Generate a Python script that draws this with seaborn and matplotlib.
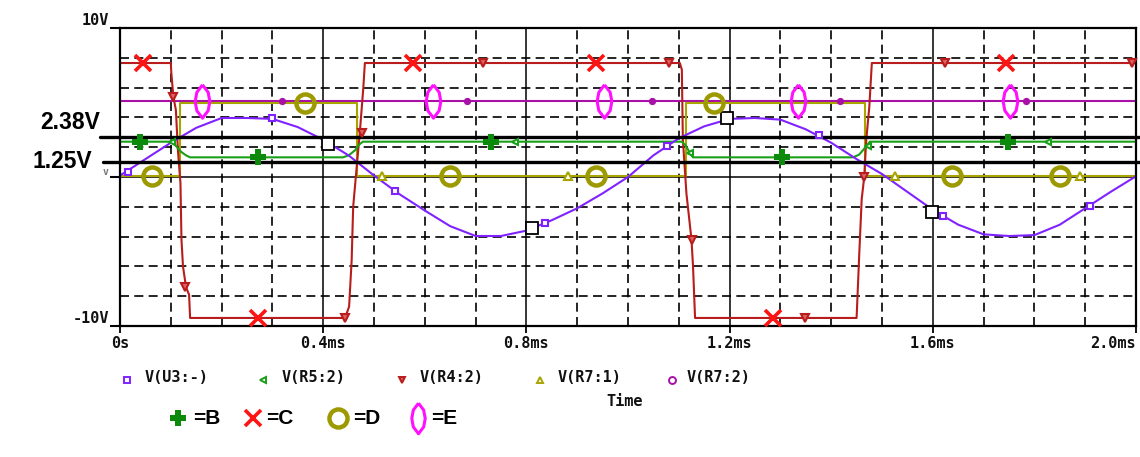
import numpy as np
import matplotlib
matplotlib.use("Agg")
import matplotlib.pyplot as plt
import matplotlib.transforms as mtransforms
from matplotlib.path import Path
import seaborn as sns

# ---------------- data ----------------
# V(U3:-) : sine-like wave (ms, V)
T_U3 = [0.00, 0.05, 0.10, 0.15, 0.20, 0.25, 0.30, 0.35, 0.40, 0.45,
        0.50, 0.55, 0.60, 0.65, 0.70, 0.75, 0.80, 0.85, 0.90, 0.95,
        1.00, 1.05, 1.10, 1.15, 1.20, 1.25, 1.30, 1.35, 1.40, 1.45,
        1.50, 1.55, 1.60, 1.65, 1.70, 1.75, 1.80, 1.85, 1.90, 1.95, 2.00]
V_U3 = [0.10, 1.20, 2.30, 3.30, 3.96, 3.96, 3.90, 3.35, 2.50, 1.45,
        0.10, -1.15, -2.25, -3.30, -3.96, -3.96, -3.60, -2.90, -2.10, -1.10,
        0.00, 1.45, 2.60, 3.40, 3.90, 3.96, 3.85, 3.20, 2.30, 1.20,
        0.20, -1.00, -2.20, -3.20, -3.85, -3.96, -3.90, -3.20, -2.10, -1.00, 0.05]

# V(R5:2) : green, switches between ~2.38 V and ~1.3 V
T_R5 = [0.0, 0.101, 0.105, 0.111, 0.120, 0.130, 0.138, 0.439, 0.450, 0.463, 0.470, 0.478,
        1.106, 1.114, 1.122, 1.128, 1.443, 1.455, 1.465, 1.476, 2.0]
V_R5 = [2.37, 2.37, 2.30, 2.05, 1.70, 1.45, 1.32, 1.32, 1.45, 1.80, 2.15, 2.37,
        2.37, 2.10, 1.60, 1.32, 1.32, 1.50, 1.90, 2.37, 2.37]

# V(R4:2) : dark red square wave
T_R4 = [0.0, 0.100, 0.101, 0.105, 0.110, 0.114, 0.119, 0.121, 0.124, 0.130, 0.136, 0.138,
        0.443, 0.451, 0.456, 0.459, 0.466, 0.472, 0.479, 0.482,
        1.102, 1.106, 1.108, 1.115, 1.125, 1.128, 1.132,
        1.450, 1.455, 1.460, 1.465, 1.469, 1.475, 1.480, 2.0]
V_R4 = [7.65, 7.65, 7.0, 5.4, 4.5, 1.8, -0.4, -4.2, -6.0, -7.4, -7.9, -9.46,
        -9.46, -8.7, -5.6, -2.0, 0.7, 2.95, 6.0, 7.65,
        7.65, 7.2, 2.5, -1.1, -4.2, -6.0, -9.46,
        -9.46, -5.35, -1.5, 0.0, 2.5, 4.7, 7.65, 7.65]

# V(R7:1) : olive pulse
T_R71 = [0.0, 0.118, 0.118, 0.466, 0.466, 1.115, 1.115, 1.467, 1.467, 2.0]
V_R71 = [0.1, 0.1, 4.95, 4.95, 0.1, 0.1, 4.95, 4.95, 0.1, 0.1]

# V(R7:2) : constant
T_R72 = [0.0, 2.0]
V_R72 = [5.07, 5.07]

# trace markers (time, value)
U3_MK_T = [0.016, 0.300, 0.541, 0.837, 1.077, 1.376, 1.620, 1.909]
U3_MK_V = [0.33, 3.96, -0.95, -3.10, 2.05, 2.80, -2.60, -1.95]
CURSOR_T = [0.409, 0.811, 1.195, 1.598]
CURSOR_V = [2.21, -3.42, 3.96, -2.35]
R5_MK_T = [0.102, 0.778, 1.122, 1.472, 1.827]
R5_MK_V = [2.37, 2.37, 1.60, 2.10, 2.37]
R4_MK_T = [0.105, 0.128, 0.443, 0.476, 0.714, 1.081, 1.125, 1.348, 1.465, 1.624, 1.992]
R4_MK_V = [5.4, -7.4, -9.46, 2.95, 7.65, 7.65, -4.2, -9.46, 0.0, 7.65, 7.65]
R71_MK_T = [0.515, 0.882, 1.526, 1.890]
R71_MK_V = [0.1, 0.1, 0.1, 0.1]
R72_MK_T = [0.319, 0.683, 1.047, 1.417, 1.783]
R72_MK_V = [5.07, 5.07, 5.07, 5.07, 5.07]

# labelled symbols B, C, D, E
B_T = [0.040, 0.272, 0.730, 1.303, 1.748]
B_V = [2.37, 1.32, 2.37, 1.32, 2.37]
C_T = [0.045, 0.272, 0.577, 0.937, 1.285, 1.744]
C_V = [7.65, -9.46, 7.65, 7.65, -9.46, 7.65]
D_T = [0.063, 0.364, 0.650, 0.937, 1.169, 1.638, 1.850]
D_V = [0.1, 4.95, 0.1, 0.1, 4.95, 0.1, 0.1]
E_T = [0.161, 0.616, 0.953, 1.335, 1.752]
E_V = [5.07, 5.07, 5.07, 5.07, 5.07]

# annotation lines
ANNOT_V = [2.66, 1.03]
ANNOT_LABELS = ["2.38V", "1.25V"]

X_TICKS = [0.0, 0.4, 0.8, 1.2, 1.6, 2.0]
X_TICK_LABELS = ["0s", "0.4ms", "0.8ms", "1.2ms", "1.6ms", "2.0ms"]
Y_TICKS = [-10, 0, 10]
Y_TICK_LABELS = ["-10V", "v", "10V"]
SERIES_NAMES = ["V(U3:-)", "V(R5:2)", "V(R4:2)", "V(R7:1)", "V(R7:2)"]
KEY_LABELS = ["=B", "=C", "=D", "=E"]
X_LABEL = "Time"

# ---------------- style ----------------
sns.set_theme(style="white")
plt.rcParams["font.family"] = ["DejaVu Sans"]

C_U3 = "#8022ff"
C_R5 = "#18a018"
C_R4 = "#b81c1c"
C_R71 = "#a8a400"
C_R72 = "#a810a8"
C_B = "#0c8a0c"
C_C = "#ff1414"
C_D = "#9c9a00"
C_E = "#ff10ff"

MONO = dict(family="DejaVu Sans Mono", weight="bold", size=11)
ARIAL = dict(family="Liberation Sans", weight="bold")

lens = Path([(0, 1), (0.34, 0.55), (0.44, 0), (0.34, -0.55), (0, -1),
             (-0.34, -0.55), (-0.44, 0), (-0.34, 0.55), (0, 1)])

W, H = 1140, 457
fig = plt.figure(figsize=(W / 100, H / 100), dpi=100)
fig.patch.set_facecolor("white")
ax = fig.add_axes([120 / W, 1 - 326 / H, 1016 / W, 298 / H])
ax.set_facecolor("white")

ax.set_xlim(0, 2.0)
ax.set_ylim(-10, 10)

# grid
ax.set_xticks(X_TICKS)
ax.set_xticklabels(X_TICK_LABELS, **MONO)
ax.set_xticks(np.arange(0, 2.001, 0.1), minor=True)
ax.set_yticks(Y_TICKS)
ax.set_yticklabels(Y_TICK_LABELS, **MONO)
ax.set_yticks(np.arange(-10, 10.01, 2), minor=True)
ax.set_axisbelow(True)
ax.grid(which="minor", color="black", lw=1.2, ls=(0, (5.4, 3.2)))
ax.grid(which="major", axis="x", color="black", lw=1.1, ls="-")
ax.grid(which="major", axis="y", color="black", lw=1.1, ls="-")
ax.tick_params(which="minor", length=0)
ax.tick_params(axis="x", which="major", direction="out", length=5, width=1.3,
               color="black", pad=2, labelcolor="#111111", bottom=True)
ax.tick_params(axis="y", which="major", direction="out", length=7, width=1.5,
               color="black", pad=1, labelcolor="#111111", left=True)
for lbl in ax.get_yticklabels():
    lbl.set_va("bottom")
yl = ax.get_yticklabels()
yl[1].set_fontsize(7)
yl[1].set_color("#777777")
xl = ax.get_xticklabels()
xl[-1].set_ha("right")
xl[-1].set_x(2.0)
for s in ax.spines.values():
    s.set_color("black")
    s.set_linewidth(1.6)
    s.set_visible(True)

# traces
lw = 1.5
sns.lineplot(x=T_R72, y=V_R72, ax=ax, color=C_R72, lw=lw, estimator=None, sort=False)
sns.lineplot(x=T_R71, y=V_R71, ax=ax, color=C_R71, lw=lw, estimator=None, sort=False)
sns.lineplot(x=T_R4, y=V_R4, ax=ax, color=C_R4, lw=lw, estimator=None, sort=False)
sns.lineplot(x=T_R5, y=V_R5, ax=ax, color=C_R5, lw=lw, estimator=None, sort=False)
sns.lineplot(x=T_U3, y=V_U3, ax=ax, color=C_U3, lw=lw, estimator=None, sort=False)

# annotation lines (thick black) extending past the plot
btr = mtransforms.blended_transform_factory(ax.transAxes, ax.transData)
ax.plot([-20 / 1016, 1020 / 1016], [ANNOT_V[0]] * 2, color="black", lw=2.4,
        transform=btr, clip_on=False, zorder=6)
ax.plot([-17 / 1016, 1020 / 1016], [ANNOT_V[1]] * 2, color="black", lw=2.4,
        transform=btr, clip_on=False, zorder=6)

# small trace markers
ax.plot(U3_MK_T, U3_MK_V, ls="none", marker="s", ms=4.5, mfc="white", mec=C_U3, mew=1.5, zorder=7)
ax.plot(CURSOR_T, CURSOR_V, ls="none", marker="s", ms=8, mfc="white", mec="black", mew=1.3, zorder=8)
ax.plot(R5_MK_T, R5_MK_V, ls="none", marker="<", ms=5, mfc="white", mec=C_R5, mew=1.5, zorder=7)
ax.plot(R4_MK_T, R4_MK_V, ls="none", marker="v", ms=5.5, mfc="#e06060", mec=C_R4, mew=1.5, zorder=7, clip_on=False)
ax.plot(R71_MK_T, R71_MK_V, ls="none", marker="^", ms=5.5, mfc="white", mec=C_R71, mew=1.5, zorder=7)
ax.plot(R72_MK_T, R72_MK_V, ls="none", marker="o", ms=4, mfc=C_R72, mec=C_R72, mew=1.2, zorder=7)

# labelled symbols
ax.plot(B_T, B_V, ls="none", marker="P", ms=11, mfc=C_B, mec=C_B, mew=0, zorder=9)
ax.plot(C_T, C_V, ls="none", marker="x", ms=12, mec=C_C, mew=2.6, zorder=9)
ax.plot(D_T, D_V, ls="none", marker="o", ms=13, mfc="none", mec=C_D, mew=3.2, zorder=9)
ax.plot(E_T, E_V, ls="none", marker=lens, ms=24, mfc="none", mec=C_E, mew=2.2, zorder=9)

# annotation labels
ax.text(-20 / 1016, ANNOT_V[0] + 0.2, ANNOT_LABELS[0], transform=btr, ha="right", va="bottom",
        fontsize=16.5, color="black", **ARIAL)
ax.text(-28 / 1016, ANNOT_V[1], ANNOT_LABELS[1], transform=btr, ha="right", va="center",
        fontsize=16.5, color="black", **ARIAL)

# ---------------- bottom legends (pixel overlay) ----------------
lax = fig.add_axes([0, 0, 1, 1], zorder=-1)
lax.set_xlim(0, W)
lax.set_ylim(H, 0)
lax.axis("off")

leg_mk = [("s", C_U3, "white"), ("<", C_R5, "white"), ("v", C_R4, "#e06060"),
          ("^", C_R71, "white"), ("o", C_R72, "white")]
mk_x = [127, 263, 402, 540, 672]
tx_x = [145, 282, 420, 558, 687]
for (m, c, fc), mx, tx, name in zip(leg_mk, mk_x, tx_x, SERIES_NAMES):
    lax.plot([mx], [380], ls="none", marker=m, ms=5, mfc=fc, mec=c, mew=1.4)
    lax.text(tx, 378, name, ha="left", va="center", color="#111111", **MONO)
lax.text(625, 401, X_LABEL, ha="center", va="center", color="#111111", **MONO)

key_mk = [("P", C_B, C_B, 0, 11, 178), ("x", C_C, "none", 2.6, 12, 253),
          ("o", C_D, "none", 3.2, 13, 338), (lens, C_E, "none", 2.2, 22, 418)]
key_tx = [193, 266, 353, 431]
for (m, c, fc, mw, ms, mx), tx, lab in zip(key_mk, key_tx, KEY_LABELS):
    lax.plot([mx], [418], ls="none", marker=m, ms=ms, mfc=fc, mec=c, mew=mw)
    lax.text(tx, 419, lab, ha="left", va="center", fontsize=15, color="black", **ARIAL)

fig.savefig("out.png", dpi=100, facecolor="white")
